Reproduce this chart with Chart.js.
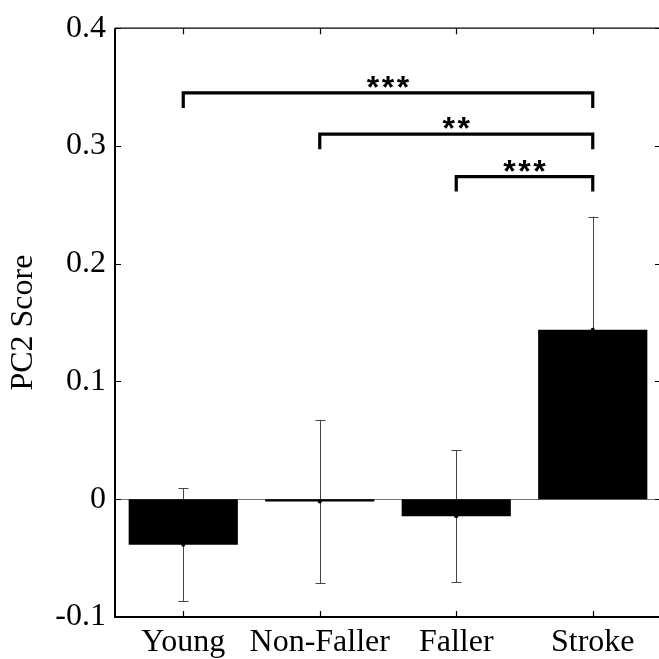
<!DOCTYPE html>
<html><head><meta charset="utf-8">
<script src="https://cdn.jsdelivr.net/npm/chart.js@4"></script>
<style>
html,body{margin:0;padding:0;overflow:hidden;background:#fff;width:659px;height:659px}
#wrap{position:absolute;left:0;top:0;width:670px;height:659px}
</style>
</head><body>
<div id="wrap"><canvas id="c" width="670" height="659"></canvas></div>
<script>
// ---- data ----
const categories = ['Young', 'Non-Faller', 'Faller', 'Stroke'];
const means = [-0.0386, -0.002, -0.0145, 0.144];
const errors = [0.048, 0.0695, 0.056, 0.096];
const yTicks = [-0.1, 0, 0.1, 0.2, 0.3, 0.4];
const sigFrom = [0, 1, 2];
const sigTo = [3, 3, 3];
const sigLabels = ['***', '**', '***'];
const sigLevels = [0.345, 0.310, 0.274];

const SERIF = '"Liberation Serif", "Times New Roman", serif';

const framePlugin = {
  id: 'frame',
  beforeDatasetsDraw(chart) {
    const ctx = chart.ctx, xs = chart.scales.x, ys = chart.scales.y, a = chart.chartArea;
    ctx.save();
    // zero baseline
    ctx.strokeStyle = '#777'; ctx.lineWidth = 1;
    const y0 = Math.round(ys.getPixelForValue(0)) + 0.5;
    ctx.beginPath(); ctx.moveTo(a.left, y0); ctx.lineTo(a.right, y0); ctx.stroke();
    // error bars (behind bars)
    ctx.strokeStyle = '#444'; ctx.lineWidth = 1;
    means.forEach((m, i) => {
      const x = Math.round(xs.getPixelForValue(i)) + 0.5;
      const yt = ys.getPixelForValue(m + errors[i]);
      const yb = ys.getPixelForValue(m - errors[i]);
      ctx.beginPath();
      ctx.moveTo(x, yt); ctx.lineTo(x, yb);
      ctx.moveTo(x - 5, Math.round(yt) + 0.5); ctx.lineTo(x + 5, Math.round(yt) + 0.5);
      ctx.moveTo(x - 5, Math.round(yb) + 0.5); ctx.lineTo(x + 5, Math.round(yb) + 0.5);
      ctx.stroke();
    });
    ctx.restore();
  },
  afterDatasetsDraw(chart) {
    const ctx = chart.ctx, xs = chart.scales.x, ys = chart.scales.y, a = chart.chartArea;
    ctx.save();
    // mean dots
    ctx.fillStyle = '#000';
    means.forEach((m, i) => {
      ctx.beginPath();
      ctx.arc(xs.getPixelForValue(i), ys.getPixelForValue(m), 2, 0, Math.PI * 2);
      ctx.fill();
    });
    // frame
    ctx.strokeStyle = '#000';
    ctx.lineWidth = 2;
    ctx.beginPath();
    ctx.moveTo(a.left, a.top); ctx.lineTo(a.left, a.bottom); ctx.lineTo(a.right, a.bottom);
    ctx.stroke();
    ctx.lineWidth = 1.3;
    ctx.beginPath();
    ctx.moveTo(a.left, a.top); ctx.lineTo(a.right, a.top); ctx.lineTo(a.right, a.bottom);
    ctx.stroke();
    // ticks (inward)
    ctx.lineWidth = 1.2;
    ctx.beginPath();
    yTicks.forEach(v => {
      const y = Math.round(ys.getPixelForValue(v)) + 0.5;
      ctx.moveTo(a.left, y); ctx.lineTo(a.left + 6, y);
      ctx.moveTo(a.right, y); ctx.lineTo(a.right - 6, y);
    });
    categories.forEach((c, i) => {
      const x = Math.round(xs.getPixelForValue(i)) + 0.5;
      ctx.moveTo(x, a.bottom); ctx.lineTo(x, a.bottom - 6);
      ctx.moveTo(x, a.top); ctx.lineTo(x, a.top + 6);
    });
    ctx.stroke();
    // significance brackets
    ctx.lineWidth = 3.2; ctx.lineJoin = 'miter'; ctx.lineCap = 'butt';
    ctx.font = 'bold 32px "Liberation Sans", Arial, sans-serif';
    ctx.textAlign = 'center'; ctx.textBaseline = 'alphabetic';
    const starGap = 15;
    sigLevels.forEach((lv, k) => {
      const x1 = xs.getPixelForValue(sigFrom[k]);
      const x2 = xs.getPixelForValue(sigTo[k]);
      const yb = ys.getPixelForValue(lv);
      ctx.beginPath();
      ctx.moveTo(x1, yb + 15); ctx.lineTo(x1, yb); ctx.lineTo(x2, yb); ctx.lineTo(x2, yb + 15);
      ctx.stroke();
      const m = ctx.measureText('*');
      const center = yb - 11;
      const base = center + (m.actualBoundingBoxAscent - m.actualBoundingBoxDescent) / 2;
      const n = sigLabels[k].length;
      const cx = (x1 + x2) / 2;
      for (let j = 0; j < n; j++) {
        ctx.fillText('*', cx + (j - (n - 1) / 2) * starGap, base);
      }
    });
    ctx.restore();
  }
};

new Chart(document.getElementById('c').getContext('2d'), {
  type: 'bar',
  data: {
    labels: categories,
    datasets: [{
      data: means,
      backgroundColor: '#000',
      borderColor: '#000',
      borderWidth: 0,
      barPercentage: 0.8,
      categoryPercentage: 1.0
    }]
  },
  options: {
    responsive: false,
    animation: false,
    devicePixelRatio: 1,
    layout: { padding: { top: 21, right: 9, left: 0, bottom: 0 } },
    plugins: { legend: { display: false }, tooltip: { enabled: false } },
    scales: {
      x: {
        grid: { display: false, drawTicks: false },
        border: { display: false },
        ticks: { font: { family: SERIF, size: 32 }, color: '#000', padding: 6, maxRotation: 0, autoSkip: false },
        afterFit(s) { s.height = 42; }
      },
      y: {
        min: -0.1, max: 0.4,
        grid: { display: false, drawTicks: false },
        border: { display: false },
        afterBuildTicks(s) { s.ticks = yTicks.map(v => ({ value: v })); },
        ticks: {
          font: { family: SERIF, size: 32 }, color: '#000', padding: 9,
          callback: v => (Math.abs(v) < 1e-9 ? '0' : String(Math.round(v * 10) / 10))
        },
        title: { display: true, text: 'PC2 Score', font: { family: SERIF, size: 32 }, color: '#000', padding: { top: 4, bottom: 0 } },
        afterFit(s) { s.width = 115; }
      }
    }
  },
  plugins: [framePlugin]
});
</script>
</body></html>
